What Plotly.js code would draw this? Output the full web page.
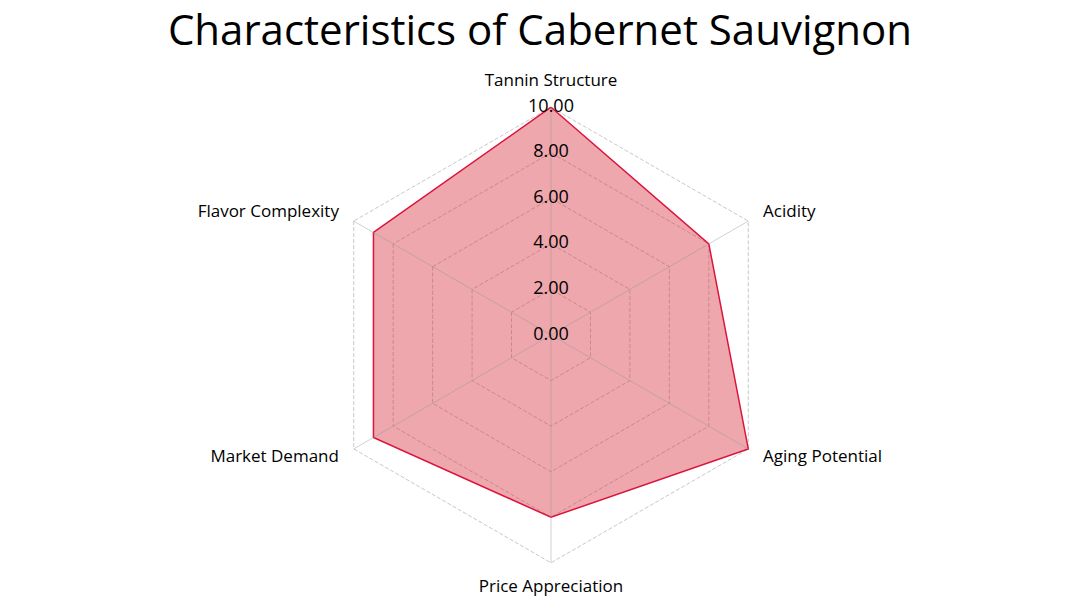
<!DOCTYPE html>
<html>
<head>
<meta charset="utf-8">
<script src="https://cdn.plot.ly/plotly-3.0.1.min.js"></script>
<style>html,body{margin:0;padding:0;background:#fff;}#chart{width:1080px;height:607px;}</style>
</head>
<body>
<div id="chart"></div>
<script>
const categories = ["Tannin Structure", "Acidity", "Aging Potential", "Price Appreciation", "Market Demand", "Flavor Complexity"];
const values = [10, 8, 10, 8, 9, 9];
const radialTicks = [0, 2, 4, 6, 8, 10];
const chartTitle = "Characteristics of Cabernet Sauvignon";

const FONT = "'Open Sans', Lato, sans-serif";
const SCALE_MAX = 10;        // outer grid ring
const VIEW_MAX = 11.15;      // extra room in the polar range for the category labels

// label placement (style): radius factor and text anchor for each spoke
const labelStyle = [
  {k: 1.11, pos: "middle center"},
  {k: 1.075, pos: "middle right"},
  {k: 1.075, pos: "middle right"},
  {k: 1.11, pos: "middle center"},
  {k: 1.075, pos: "middle left"},
  {k: 1.075, pos: "middle left"}
];

const dataTrace = {
  type: "scatterpolar",
  r: values.concat([values[0]]),
  theta: categories.concat([categories[0]]),
  fill: "toself",
  fillcolor: "rgba(210,35,50,0.4)",
  line: {color: "#DC143C", width: 1.5},
  mode: "lines",
  hoverinfo: "skip",
  showlegend: false
};

// spokes from the centre to the outer ring
const spokeR = [], spokeT = [];
categories.forEach(c => { spokeR.push(0, SCALE_MAX, null); spokeT.push(c, c, null); });
const spokeTrace = {
  type: "scatterpolar",
  mode: "lines",
  r: spokeR,
  theta: spokeT,
  line: {color: "rgba(150,150,150,0.45)", width: 1},
  connectgaps: false,
  hoverinfo: "skip",
  showlegend: false
};

const angularLabelTrace = {
  type: "scatterpolar",
  mode: "text",
  r: categories.map((c, i) => SCALE_MAX * labelStyle[i].k),
  theta: categories,
  text: categories,
  textposition: labelStyle.map(s => s.pos),
  textfont: {family: FONT, size: 17, color: "#000"},
  cliponaxis: false,
  hoverinfo: "skip",
  showlegend: false
};

// radial value labels on an overlaid, invisible polar subplot with the same scale
const radialLabelTrace = {
  type: "scatterpolar",
  subplot: "polar2",
  mode: "text",
  r: radialTicks,
  theta: radialTicks.map(() => categories[0]),
  text: radialTicks.map(v => v.toFixed(2)),
  textposition: "middle center",
  textfont: {family: FONT, size: 18, color: "#000"},
  cliponaxis: true,
  hoverinfo: "skip",
  showlegend: false
};

const layout = {
  width: 1080, height: 607,
  paper_bgcolor: "#fff",
  plot_bgcolor: "#fff",
  margin: {t: 81, b: 18, l: 90, r: 68},
  title: {text: chartTitle, x: 0.5, xanchor: "center", y: 0.95, yanchor: "middle",
          font: {family: FONT, size: 42, color: "#000"}},
  font: {family: FONT, color: "#000"},
  showlegend: false,
  polar: {
    domain: {x: [0, 1], y: [0, 1]},
    bgcolor: "rgba(0,0,0,0)",
    gridshape: "linear",
    radialaxis: {
      range: [0, VIEW_MAX],
      tickvals: radialTicks,
      showticklabels: false,
      angle: 90,
      showline: false,
      ticks: "",
      gridcolor: "#c8c8c8",
      griddash: "4px,2px",
      gridwidth: 1,
      layer: "above traces"
    },
    angularaxis: {
      rotation: 90,
      direction: "clockwise",
      showline: false,
      showgrid: false,
      showticklabels: false,
      ticks: ""
    }
  },
  polar2: {
    domain: {x: [0, 1], y: [0, 1]},
    bgcolor: "rgba(0,0,0,0)",
    gridshape: "circular",
    radialaxis: {
      range: [0, VIEW_MAX],
      visible: false,
      showgrid: false,
      showline: false,
      showticklabels: false,
      ticks: "",
      angle: 90
    },
    angularaxis: {
      type: "category",
      categoryarray: categories,
      rotation: 90,
      direction: "clockwise",
      visible: false,
      showgrid: false,
      showline: false,
      showticklabels: false,
      ticks: ""
    }
  }
};

Plotly.newPlot("chart", [dataTrace, spokeTrace, angularLabelTrace, radialLabelTrace], layout, {displayModeBar: false, staticPlot: true});
</script>
</body>
</html>
